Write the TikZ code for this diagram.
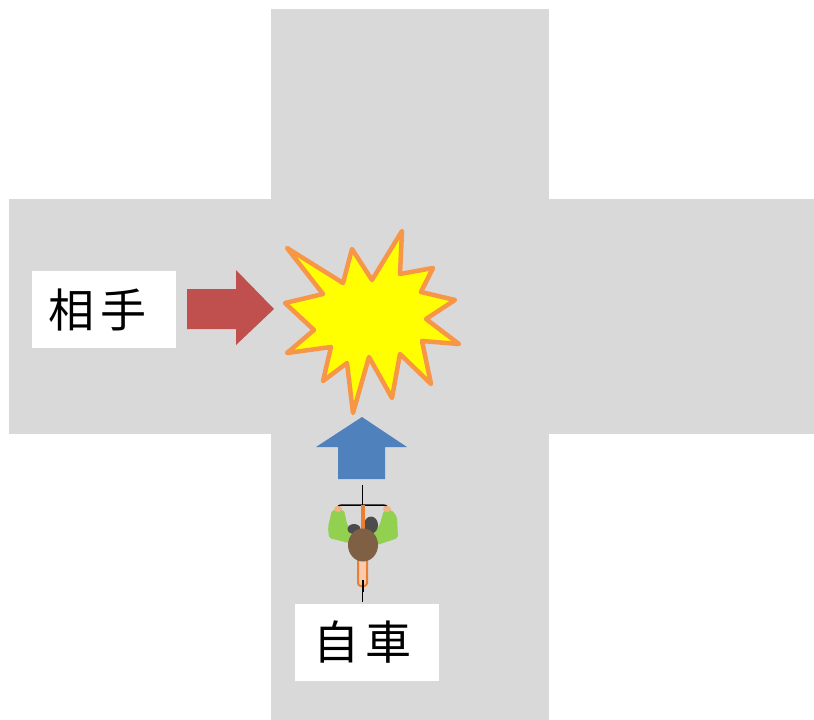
\documentclass[tikz,border=0pt]{standalone}
\usepackage{fontspec}
\newfontfamily\jpfont[LetterSpace=12]{Noto Sans CJK JP}
\usepackage{tikz}
\usetikzlibrary{positioning}
\definecolor{road}{HTML}{D9D9D9}
\definecolor{oppred}{HTML}{C0504D}
\definecolor{ownblue}{HTML}{4F81BD}
\definecolor{boom}{HTML}{FFFF00}
\definecolor{boomline}{HTML}{F79646}
\definecolor{shirt}{HTML}{92D050}
\definecolor{hair}{HTML}{7F6045}
\definecolor{frame}{HTML}{ED7D31}
\definecolor{skin}{HTML}{F4B183}
\tikzset{
x=1pt, y=-1pt, % one unit is one pixel of the picture
namebox/.style={fill=white, inner sep=0pt, font=\jpfont\fontsize{46}{50}\selectfont}, % white boxes with the names
blockarrow/.style={draw=none}, % the fat arrows
}
\begin{document}
\begin{tikzpicture}
        \useasboundingbox (0,0) rectangle (814,720);
        %roads
        \fill[road] (271,9) rectangle (549,720);
        \fill[road] (9,199) rectangle (814,434);
        %crash
        \draw[fill=boom, draw=boomline, line width=4.5pt, line join=round]
        (287,248) -- (343,283) -- (352,249) -- (372,280) -- (402,231) -- (400,274)
        -- (433,268) -- (421,292) -- (455,300) -- (426,319) -- (459,344) -- (422,341)
        -- (431,384) -- (400,354) -- (392,398) -- (369,357) -- (353,413) -- (347,363)
        -- (323,381) -- (331,347) -- (287,353) -- (314,330) -- (285,303) -- (323,294) -- cycle;
        %arrows
        \fill[blockarrow, oppred] (187,289) -- (236,289) -- (236,270) -- (274,309)
        -- (236,345) -- (236,329) -- (187,329) -- cycle;
        \fill[blockarrow, ownblue] (338,479) -- (338,447) -- (316,447) -- (362,417)
        -- (407,447) -- (385,447) -- (385,479) -- cycle;
        %names
        \node[namebox, minimum width=144pt, minimum height=77pt] (opp) at (104,309.5) {\hspace*{-13pt}相手};
        \node[namebox, minimum width=144pt, minimum height=77pt] (own) at (367,642.5) {\hspace*{-9pt}自車};
        %bicycle
        \draw[line width=1.2pt] (362.5,485) -- (362.5,602);
        \draw[line width=1.5pt] (336,509) .. controls (339,505) .. (345,505) -- (380,505) .. controls (386,505) .. (389,509);
        \fill[shirt, rounded corners=2pt] (332,510) -- (344,510) -- (347,524) -- (352,533) -- (375,532)
        -- (380,524) -- (384,510) -- (392,510) -- (397,517) -- (398,538) -- (377,545)
        -- (349,543) -- (329,538) -- (328,527) -- cycle;
        \fill[skin] (338,509) ellipse (4 and 3);
        \fill[skin] (387,509) ellipse (4 and 3);
        \fill[black!70] (354,529) ellipse (6.5 and 5);
        \fill[black!70] (371,525) ellipse (7 and 8.5);
        \fill[frame] (360.5,505) rectangle (365,530);
        \draw[frame, fill=white!60!frame, line width=2pt, rounded corners=3pt] (358,557) rectangle (367,586);
        \draw[line width=2pt] (362.5,580) -- (362.5,592);
        \fill[hair] (363,545) ellipse (15 and 16.5);
        ;\end{tikzpicture}
\end{document}
